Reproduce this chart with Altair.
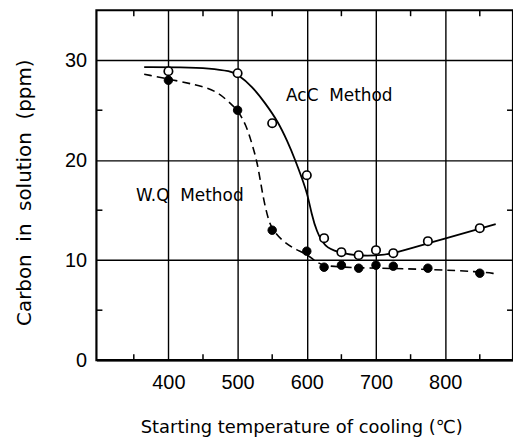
import altair as alt
import pandas as pd

# Measured carbon in solution (ppm) vs. starting temperature of cooling (deg C)
temps = [400, 500, 550, 600, 625, 650, 675, 700, 725, 775, 850]
acc_vals = [28.9, 28.7, 23.7, 18.5, 12.2, 10.8, 10.5, 11.0, 10.7, 11.9, 13.2]
wq_vals = [28.0, 25.0, 13.0, 10.9, 9.3, 9.5, 9.2, 9.5, 9.4, 9.2, 8.7]

# Hand-drawn trend curves through the data
acc_curve_t = [365, 420, 460, 490, 500, 521, 540, 558, 572, 584, 593, 601, 607,
               614, 626, 645, 670, 700, 722, 775, 850, 873]
acc_curve_v = [29.3, 29.3, 29.2, 28.9, 28.6, 27.4, 25.7, 23.9, 21.9, 19.9, 18.2,
               16.6, 14.6, 12.9, 11.3, 10.8, 10.45, 10.45, 10.6, 11.7, 13.15, 13.6]
wq_curve_t = [365, 416, 456, 475, 491, 500, 512, 521, 528, 533, 538, 545, 551,
              567, 586, 600, 614, 625, 650, 700, 775, 850, 873]
wq_curve_v = [28.6, 27.9, 27.3, 26.6, 25.6, 25.0, 23.6, 21.6, 19.9, 17.9, 15.9,
              13.9, 13.0, 11.75, 11.0, 10.6, 9.8, 9.45, 9.3, 9.2, 9.1, 8.85, 8.65]

# Axis ticks
x_ticks = [400, 500, 600, 700, 800]
y_ticks = [0, 10, 20, 30]
x_minor = [350, 450, 550, 650, 750, 850]
y_minor = [5, 15, 25]

W, H = 419, 352
SANS = "Liberation Sans, Arial, sans-serif"
WIDE = "DejaVu Sans, Liberation Sans, sans-serif"
NB = "\u00a0"

pts = pd.DataFrame({"t": temps * 2, "v": acc_vals + wq_vals,
                    "m": ["AcC"] * len(temps) + ["WQ"] * len(temps)})
acc_df = pd.DataFrame({"t": acc_curve_t, "v": acc_curve_v})
wq_df = pd.DataFrame({"t": wq_curve_t, "v": wq_curve_v})
xm_df = pd.DataFrame({"t": x_minor})
ym_df = pd.DataFrame({"v": y_minor})

xs = alt.Scale(domain=[296, 898], nice=False, zero=False)
ys = alt.Scale(domain=[0, 35], nice=False, zero=False)

x_axis = alt.Axis(values=x_ticks, grid=True, gridColor="black", gridWidth=1.4,
                  gridOpacity=1, ticks=False, domain=False,
                  labelFont=SANS, labelFontSize=20, labelColor="black",
                  labelPadding=12, labelFlush=False,
                  title="Starting temperature of cooling (\u2103)",
                  titleFont=WIDE, titleFontSize=18, titleFontWeight="normal",
                  titleColor="black", titleX=206, titleY=73,
                  titleAlign="center", titleBaseline="alphabetic")
y_axis = alt.Axis(values=y_ticks, grid=True, gridColor="black", gridWidth=1.4,
                  gridOpacity=1, ticks=False, domain=False,
                  labelFont=SANS, labelFontSize=20, labelColor="black",
                  labelPadding=10, labelFlush=False,
                  title=f"Carbon{NB} in{NB} solution{NB} (ppm)",
                  titleFont=WIDE, titleFontSize=20, titleFontWeight="normal",
                  titleColor="black", titleAngle=-90, titleX=-72, titleY=183,
                  titleAlign="center", titleBaseline="middle")

X = alt.X("t:Q", scale=xs, axis=x_axis)
Y = alt.Y("v:Q", scale=ys, axis=y_axis)

acc_line = alt.Chart(acc_df).mark_line(
    color="black", strokeWidth=1.8, interpolate="basis").encode(x=X, y=Y)
wq_line = alt.Chart(wq_df).mark_line(
    color="black", strokeWidth=1.6, strokeDash=[8, 5], interpolate="basis"
).encode(x=X, y=Y)

acc_pts = alt.Chart(pts).transform_filter(alt.datum.m == "AcC").mark_point(
    shape="circle", filled=True, fill="white", stroke="black", strokeWidth=1.7,
    size=72, opacity=1).encode(x=X, y=Y)
wq_pts = alt.Chart(pts).transform_filter(alt.datum.m == "WQ").mark_point(
    shape="circle", filled=True, fill="black", stroke="black", strokeWidth=1,
    size=72, opacity=1).encode(x=X, y=Y)

tick_top = alt.Chart(xm_df).mark_rule(color="black", strokeWidth=1.5).encode(
    x=X, y=alt.value(0), y2=alt.value(6))
tick_bot = alt.Chart(xm_df).mark_rule(color="black", strokeWidth=1.5).encode(
    x=X, y=alt.value(H), y2=alt.value(H - 6))
tick_left = alt.Chart(ym_df).mark_rule(color="black", strokeWidth=1.5).encode(
    y=Y, x=alt.value(0), x2=alt.value(6))
tick_right = alt.Chart(ym_df).mark_rule(color="black", strokeWidth=1.5).encode(
    y=Y, x=alt.value(W), x2=alt.value(W - 6))

label_acc = alt.Chart(pd.DataFrame({"s": [f"AcC{NB} Method"]})).mark_text(
    font=WIDE, fontSize=17, color="black", align="center", baseline="middle"
).encode(x=alt.datum(647, scale=xs), y=alt.datum(26.4, scale=ys), text="s:N")
label_wq = alt.Chart(pd.DataFrame({"s": [f"W.Q{NB} Method"]})).mark_text(
    font=WIDE, fontSize=17, color="black", align="center", baseline="middle"
).encode(x=alt.datum(431, scale=xs), y=alt.datum(16.4, scale=ys), text="s:N")

chart = alt.layer(
    tick_top, tick_bot, tick_left, tick_right,
    acc_line, wq_line, acc_pts, wq_pts, label_acc, label_wq
).properties(
    width=W, height=H,
    autosize=alt.AutoSizeParams(type="none"),
    padding={"left": 97, "top": 9, "right": 0, "bottom": 80},
    background="white",
).configure_view(stroke="black", strokeWidth=2.2)

chart.save("out.html", embed_options={"renderer": "svg", "actions": False})
